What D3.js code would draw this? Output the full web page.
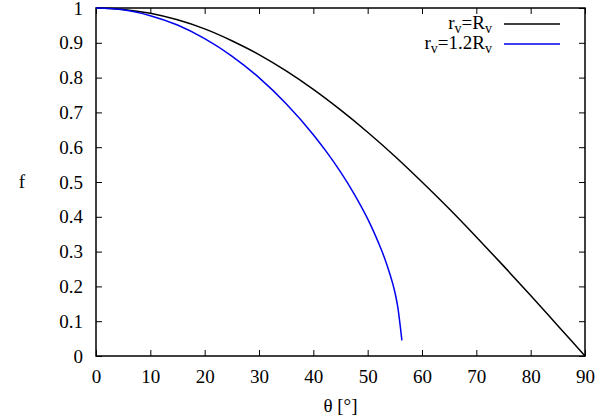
<!DOCTYPE html>
<html lang="en">
<head>
<meta charset="UTF-8">
<title>f vs theta</title>
<script src="https://d3js.org/d3.v7.min.js"></script>
<style>
  body { margin: 0; background: #fff; }
  svg text { font-family: "Times New Roman", "Liberation Serif", "DejaVu Serif", serif; fill: #000; }
</style>
</head>
<body>
<svg id="chart" width="600" height="420"></svg>
<script>
// theta in degrees, f values
const thetaRv = [0, 5, 10, 15, 20, 25, 30, 35, 40, 45, 50, 55, 60, 65, 70, 75, 80, 85, 90];
const fRv = [1, 0.996, 0.985, 0.966, 0.94, 0.906, 0.866, 0.819, 0.766, 0.707, 0.643, 0.574, 0.5, 0.423, 0.342, 0.259, 0.174, 0.087, 0];

const theta12 = [0, 5, 10, 15, 20, 25, 30, 35, 40, 42.5, 45, 47.5, 50, 51, 52, 53, 54, 55, 55.5, 56.3];
const f12 = [1, 0.995, 0.978, 0.951, 0.912, 0.862, 0.8, 0.725, 0.636, 0.585, 0.529, 0.466, 0.394, 0.361, 0.325, 0.286, 0.24, 0.184, 0.145, 0.045];

const xTicks = [0, 10, 20, 30, 40, 50, 60, 70, 80, 90];
const yTicks = [0, 0.1, 0.2, 0.3, 0.4, 0.5, 0.6, 0.7, 0.8, 0.9, 1];

const margin = {top: 8, right: 15, bottom: 64, left: 96};
const width = 600 - margin.left - margin.right;
const height = 420 - margin.top - margin.bottom;

const serif = '"Times New Roman", "Liberation Serif", "DejaVu Serif", serif';

const svg = d3.select("#chart");
const g = svg.append("g").attr("transform", `translate(${margin.left},${margin.top})`);

const x = d3.scaleLinear().domain([0, 90]).range([0, width]);
const y = d3.scaleLinear().domain([0, 1]).range([height, 0]);

// axes with inward ticks, mirrored on top and right
const fmt = d => String(d);
g.append("g").attr("transform", `translate(0,${height})`)
  .attr("font-family", serif).attr("font-size", 19)
  .call(d3.axisBottom(x).tickValues(xTicks).tickSize(-6).tickPadding(14).tickFormat(fmt))
  .attr("font-family", serif).attr("font-size", 19)
  .call(a => a.select(".domain").remove());
g.append("g")
  .call(d3.axisLeft(y).tickValues(yTicks).tickSize(-6).tickPadding(13).tickFormat(fmt))
  .attr("font-family", serif).attr("font-size", 19)
  .call(a => a.select(".domain").remove());
g.append("g")
  .call(d3.axisTop(x).tickValues(xTicks).tickSize(-6).tickFormat(""))
  .call(a => a.select(".domain").remove());
g.append("g").attr("transform", `translate(${width},0)`)
  .call(d3.axisRight(y).tickValues(yTicks).tickSize(-6).tickFormat(""))
  .call(a => a.select(".domain").remove());

g.append("rect")
  .attr("width", width).attr("height", height)
  .attr("fill", "none").attr("stroke", "#000").attr("stroke-width", 1.5);

// curves
const line = d3.line().x(d => x(d[0])).y(d => y(d[1])).curve(d3.curveMonotoneX);

g.append("path")
  .datum(d3.zip(thetaRv, fRv))
  .attr("fill", "none").attr("stroke", "#000").attr("stroke-width", 1.5)
  .attr("d", line);

g.append("path")
  .datum(d3.zip(theta12, f12))
  .attr("fill", "none").attr("stroke", "#0000ee").attr("stroke-width", 1.5)
  .attr("d", line);

// legend
const legend = [
  {pre: "r", sub1: "v", mid: "=R", sub2: "v", color: "#000", yy: 24},
  {pre: "r", sub1: "v", mid: "=1.2R", sub2: "v", color: "#0000ee", yy: 44}
];
legend.forEach(l => {
  const t = svg.append("text")
    .attr("x", 492).attr("y", l.yy + 5)
    .attr("text-anchor", "end").attr("font-size", 19);
  t.append("tspan").text(l.pre);
  t.append("tspan").attr("dy", 4).attr("font-size", 14).text(l.sub1);
  t.append("tspan").attr("dy", -4).text(l.mid);
  t.append("tspan").attr("dy", 4).attr("font-size", 14).text(l.sub2);
  svg.append("line")
    .attr("x1", 504).attr("x2", 560).attr("y1", l.yy).attr("y2", l.yy)
    .attr("stroke", l.color).attr("stroke-width", 1.5);
});

// axis labels
svg.append("text")
  .attr("x", margin.left + width / 2).attr("y", 412)
  .attr("text-anchor", "middle").attr("font-size", 19)
  .text("θ [°]");
svg.append("text")
  .attr("x", 22).attr("y", margin.top + height / 2 + 6)
  .attr("text-anchor", "middle").attr("font-size", 19)
  .text("f");
</script>
</body>
</html>
